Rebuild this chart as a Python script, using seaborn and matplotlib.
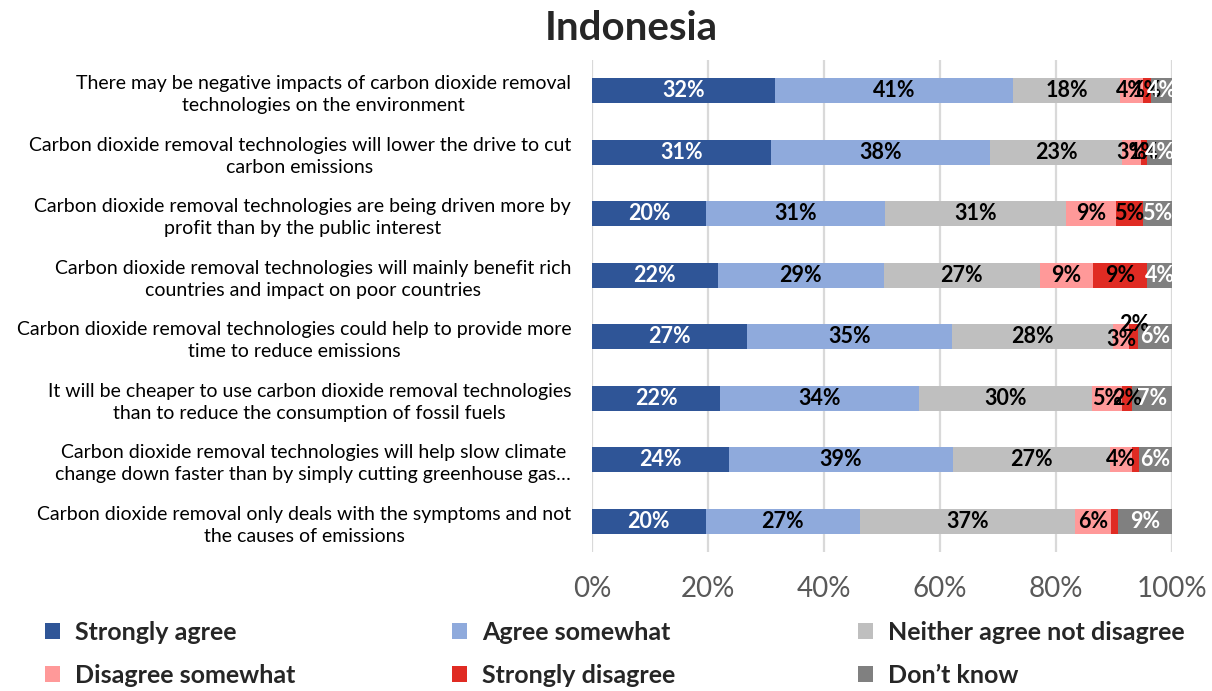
import numpy as np
import pandas as pd
import matplotlib
matplotlib.use("Agg")
import matplotlib.pyplot as plt
from matplotlib.patches import Patch
import seaborn as sns

# Survey statements, top to bottom
statements = [
    "There may be negative impacts of carbon dioxide removal\ntechnologies on the environment",
    "Carbon dioxide removal technologies will lower the drive to cut\ncarbon emissions",
    "Carbon dioxide removal technologies are being driven more by\nprofit than by the public interest",
    "Carbon dioxide removal technologies will mainly benefit rich\ncountries and impact on poor countries",
    "Carbon dioxide removal technologies could help to provide more\ntime to reduce emissions",
    "It will be cheaper to use carbon dioxide removal technologies\nthan to reduce the consumption of fossil fuels",
    "Carbon dioxide removal technologies will help slow climate\nchange down faster than by simply cutting greenhouse gas\u2026",
    "Carbon dioxide removal only deals with the symptoms and not\nthe causes of emissions",
]

# Response shares (%)
strongly_agree    = [31.6, 30.9, 19.7, 21.7, 26.7, 22.1, 23.6, 19.6]
agree_somewhat    = [41.0, 37.7, 30.8, 28.6, 35.4, 34.3, 38.6, 26.6]
neither           = [18.4, 22.8, 31.2, 26.9, 27.7, 29.8, 27.1, 37.1]
disagree_somewhat = [4.0, 3.2, 8.6, 9.2, 2.8, 5.2, 3.8, 6.2]
strongly_disagree = [1.4, 1.1, 4.7, 9.3, 1.6, 1.7, 1.2, 1.2]
dont_know         = [3.6, 4.3, 5.0, 4.3, 5.8, 6.9, 5.7, 9.3]

responses = ["Strongly agree", "Agree somewhat", "Neither agree not disagree",
             "Disagree somewhat", "Strongly disagree", "Don\u2019t know"]
series = [strongly_agree, agree_somewhat, neither,
          disagree_somewhat, strongly_disagree, dont_know]
colors = ["#2F5597", "#8FAADC", "#BFBFBF", "#FF9999", "#E02B23", "#808080"]
label_colors = ["white", "black", "black", "black", "black", "white"]

x_ticks = [0, 20, 40, 60, 80, 100]
x_tick_labels = ["0%", "20%", "40%", "60%", "80%", "100%"]

# Labels left off on tiny segments, and nudged labels (row, series) -> (dx, dy) in points
hidden_labels = {(6, 4), (7, 4)}
label_nudges = {(4, 4): (0, 9), (4, 3): (0, -2)}

sns.set_theme(style="white")
plt.rcParams["font.family"] = ["Lato", "DejaVu Sans"]

fig = plt.figure(figsize=(12.12, 6.91), dpi=100)
ax = fig.add_axes([592 / 1212, 1 - 552 / 691, 580 / 1212, 492 / 691])

values = np.array(series)
ends = np.cumsum(values, axis=0)
starts = ends - values

# Stacked bars: draw cumulative totals from the outermost segment inwards
for k in range(len(series) - 1, -1, -1):
    df = pd.DataFrame({"statement": statements, "end": ends[k]})
    sns.barplot(data=df, x="end", y="statement", order=statements, orient="h",
                color=colors[k], saturation=1, width=0.41, ax=ax, linewidth=0)

for k in range(len(series)):
    for i in range(len(statements)):
        if (i, k) in hidden_labels:
            continue
        v = values[k, i]
        mid = starts[k, i] + v / 2
        dx, dy = label_nudges.get((i, k), (0, 0))
        ax.annotate(f"{v:.0f}%", (mid, i), xytext=(dx, dy), textcoords="offset points",
                    ha="center", va="center", fontsize=15.5, fontweight="bold",
                    color=label_colors[k])

ax.set_xlim(0, 100)
ax.set_ylim(7.5, -0.5)
ax.set_xticks(x_ticks)
ax.set_xticklabels(x_tick_labels)
ax.set_xlabel("")
ax.set_ylabel("")
ax.xaxis.grid(True, color="#D9D9D9", linewidth=1.6)
ax.yaxis.grid(False)
ax.set_axisbelow(True)
for s in ax.spines.values():
    s.set_visible(False)
ax.tick_params(axis="x", length=0, pad=17, labelsize=20, labelcolor="#595959")
ax.tick_params(axis="y", length=0, pad=15, labelsize=14, labelcolor="black")
for lab in ax.get_yticklabels():
    lab.set_multialignment("center")
    lab.set_linespacing(1.35)

fig.text(631 / 1212, 1 - 28 / 691, "Indonesia", ha="center", va="center",
         fontsize=29, fontweight="bold")

# Legend: three columns of two entries
col_x = [45, 452, 858]
for c in range(3):
    idx = [c, c + 3]
    handles = [Patch(facecolor=colors[j], edgecolor="none") for j in idx]
    fig.legend(handles, [responses[j] for j in idx], loc="upper left",
               bbox_to_anchor=(col_x[c] / 1212, 1 - 621 / 691), frameon=False,
               prop={"weight": "bold", "size": 18}, handlelength=0.6,
               handleheight=0.6, handletextpad=0.6, labelspacing=0.8,
               borderpad=0, borderaxespad=0)

fig.savefig("out.png", dpi=100)
